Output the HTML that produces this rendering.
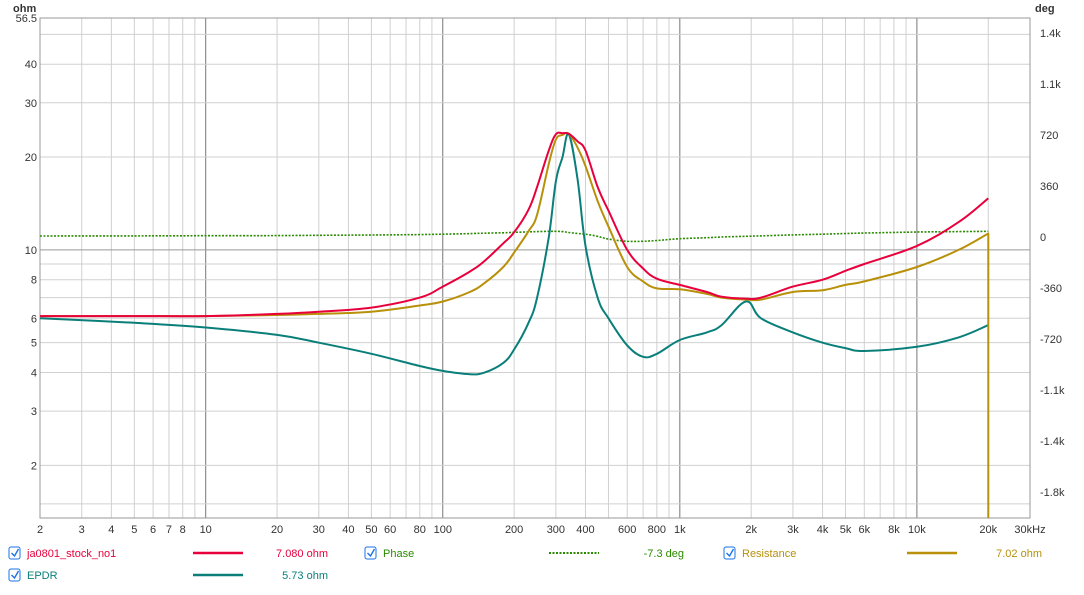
<!DOCTYPE html>
<html><head><meta charset="utf-8"><style>
body{margin:0;background:#fff;font-family:"Liberation Sans",sans-serif;}
svg text{font-family:"Liberation Sans",sans-serif;font-size:11px;}
</style></head><body>
<svg id="c" width="1084" height="590">
<g id="grid"></g>
<g id="axes"></g>
<g id="series"></g>
<g id="legend"></g>
</svg>
<script>
const freqs=[2,5,10,20,30,50,80,100,130,150,180,200,230,250,280,300,320,340,370,400,450,500,600,700,800,1000,1300,1500,1900,2200,3000,4000,5000,6000,10000,15000,20000];
const impedance=[6.1,6.1,6.1,6.2,6.3,6.5,7.0,7.6,8.5,9.2,10.5,11.4,13.5,16,21,23.7,23.9,23.8,22.5,21,16,13.4,10,8.7,8.06,7.7,7.3,7.05,6.95,7.0,7.6,8.0,8.55,9.0,10.3,12.3,14.7];
const resistance=[6.1,6.1,6.1,6.15,6.2,6.3,6.6,6.8,7.3,7.8,8.8,9.8,11.5,13,19,22.8,23.6,23.8,21.5,18.7,14.4,11.9,8.8,7.9,7.5,7.45,7.2,7.0,6.9,6.9,7.3,7.4,7.7,7.9,8.8,10.0,11.3];
const epdr=[6.0,5.8,5.6,5.3,5.0,4.6,4.2,4.05,3.95,4.0,4.3,4.75,5.8,7,11,16.7,20,23.7,17,10.3,7,6,4.9,4.5,4.6,5.1,5.4,5.7,6.8,6.0,5.4,5.0,4.8,4.7,4.85,5.2,5.7];
const phase=[7,8,9,10,12,14,17,20,24,27,30,33,36,38,40,40,38,32,25,20,5,-15,-30,-30,-25,-12,-5,0,5,8,15,20,25,28,35,38,40];
const xTicks=[2,3,4,5,6,7,8,10,20,30,40,50,60,80,100,200,300,400,600,800,1000,2000,3000,4000,5000,6000,8000,10000,20000,30000];
const xLabels=["2","3","4","5","6","7","8","10","20","30","40","50","60","80","100","200","300","400","600","800","1k","2k","3k","4k","5k","6k","8k","10k","20k","30kHz"];
const yTicks=[2,3,4,5,6,8,10,20,30,40,56.5];
const pTicks=[1440,1080,720,360,0,-360,-720,-1080,-1440,-1800];
const pLabels=["1.4k","1.1k","720","360","0","-360","-720","-1.1k","-1.4k","-1.8k"];
const NS="http://www.w3.org/2000/svg";
const X0=40,X1=1030,Y0=18,Y1=518;
const fx=f=>X0+(Math.log10(f)-Math.log10(2))/(Math.log10(30000)-Math.log10(2))*(X1-X0);
const lyMin=Math.log10(1.35),lyMax=Math.log10(56.5);
const fy=v=>Y1-(Math.log10(v)-lyMin)/(lyMax-lyMin)*(Y1-Y0);
const fp=p=>237-p/360*51;
function mk(t,a,par){const e=document.createElementNS(NS,t);for(const k in a)e.setAttribute(k,a[k]);document.getElementById(par).appendChild(e);return e;}
for(let d=1;d<=10000;d*=10)for(let m=1;m<10;m++){const f=d*m;if(f<2||f>30000)continue;
 const l=mk('line',{x1:fx(f),x2:fx(f),y1:Y0,y2:Y1,stroke:(m==1)?'#777':'#d0d0d0','stroke-width':1},'grid');
 
 }
[1.5,2,3,4,5,6,7,8,9,10,20,30,40,50].forEach(v=>{const l=mk('line',{x1:X0,x2:X1,y1:fy(v),y2:fy(v),stroke:v==10?'#999':'#d0d0d0'},'grid');
 
 });
const fr=mk('rect',{x:X0,y:Y0,width:X1-X0,height:Y1-Y0,fill:'none',stroke:'#999'},'axes');


xTicks.forEach((f,i)=>{const t=mk('text',{x:fx(f),y:533,'text-anchor':'middle',fill:'#333'},'axes');t.textContent=xLabels[i];
 
 });
yTicks.forEach(v=>{const t=mk('text',{x:37,y:fy(v)+4,'text-anchor':'end',fill:'#333'},'axes');t.textContent=v;
 
 });
pTicks.forEach((p,i)=>{const t=mk('text',{x:1040,y:fp(p)+4,fill:'#333'},'axes');t.textContent=pLabels[i];
 
 });
let t=mk('text',{x:13,y:12,'font-weight':'bold',fill:'#333'},'axes');t.textContent='ohm';


t=mk('text',{x:1035,y:12,'font-weight':'bold',fill:'#333'},'axes');t.textContent='deg';


function line(vals,fn,color,name,extra){
 const P=freqs.map((f,i)=>[fx(f),fn(vals[i])]);
 let d='M'+P[0][0].toFixed(1)+','+P[0][1].toFixed(1);
 const k=0.18;
 for(let i=0;i<P.length-1;i++){const p0=P[Math.max(0,i-1)],p1=P[i],p2=P[i+1],p3=P[Math.min(P.length-1,i+2)];
  const c1=[p1[0]+(p2[0]-p0[0])*k,p1[1]+(p2[1]-p0[1])*k],c2=[p2[0]-(p3[0]-p1[0])*k,p2[1]-(p3[1]-p1[1])*k];
  d+='C'+c1[0].toFixed(1)+','+c1[1].toFixed(1)+' '+c2[0].toFixed(1)+','+c2[1].toFixed(1)+' '+p2[0].toFixed(1)+','+p2[1].toFixed(1);}
 if(extra)d+=extra;
 const p=mk('path',{d:d,fill:'none',stroke:color,'stroke-width':2,'stroke-linejoin':'round'},'series');
 
 return p;}
const ph=line(phase,fp,'#2a8a00','phase-line');ph.setAttribute('stroke-dasharray','2,1.5');ph.setAttribute('stroke-width','1.6');
line(epdr,fy,'#0a7f7a','epdr-line');
line(resistance,fy,'#b8900a','resistance-line','L'+fx(20000).toFixed(1)+','+Y1);
line(impedance,fy,'#e8003c','impedance-line');
function leg(x,y,label,col,lx,val,dash){
 const cb=mk('rect',{x:x,y:y-10,width:11,height:12,rx:2,fill:'#fff',stroke:'#1a73e8'},'legend');
 
 
 const ck=mk('path',{d:`M${x+2.5},${y-4}l3,3l4,-7`,stroke:'#1a73e8',fill:'none','stroke-width':1.4},'legend');
 
 
 const tx=mk('text',{x:x+18,y:y,fill:col},'legend');tx.textContent=label;
 
 
 const sw=mk('line',{x1:lx,x2:lx+50,y1:y-4,y2:y-4,stroke:col,'stroke-width':dash?2:2.5},'legend');if(dash)sw.setAttribute('stroke-dasharray','2,1.5');
 
 
 const vt=mk('text',{x:lx+135,y:y,fill:col,'text-anchor':'end'},'legend');vt.textContent=val;
 
 }
leg(9,557,'ja0801_stock_no1','#e8003c',193,'7.080 ohm');
leg(365,557,'Phase','#2a8a00',549,'-7.3 deg',true);
leg(724,557,'Resistance','#b8900a',907,'7.02 ohm');
leg(9,579,'EPDR','#0a7f7a',193,'5.73 ohm');
</script>
</body></html>
